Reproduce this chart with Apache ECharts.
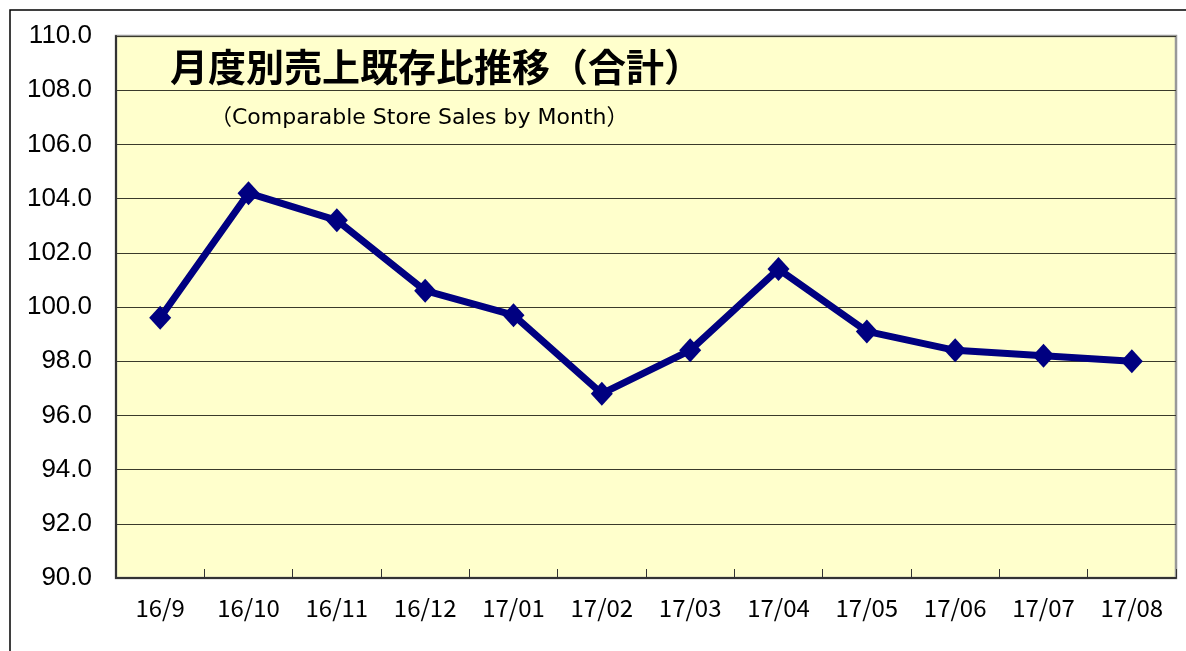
<!DOCTYPE html>
<html>
<head>
<meta charset="utf-8">
<script src="https://cdn.jsdelivr.net/npm/echarts@6/dist/echarts.min.js"></script>
<style>
  html, body { margin: 0; padding: 0; background: #fff; }
  #chart { width: 1186px; height: 651px; }
</style>
</head>
<body>
<div id="chart"></div>
<script>
  // months along the x axis
  const months = ['16/9', '16/10', '16/11', '16/12', '17/01', '17/02', '17/03', '17/04', '17/05', '17/06', '17/07', '17/08'];
  // comparable store sales (%)
  const salesRatio = [99.6, 104.2, 103.2, 100.6, 99.7, 96.8, 98.4, 101.4, 99.1, 98.4, 98.2, 98.0];

  const chart = echarts.init(document.getElementById('chart'));
  chart.setOption({
    animation: false,
    title: [
      {
        text: '月度別売上既存比推移（合計）',
        left: 165,
        top: 43,
        textStyle: {
          fontFamily: 'Noto Sans CJK JP',
          fontSize: 38,
          fontWeight: 'bold',
          color: '#000'
        }
      },
      {
        text: '（Comparable Store Sales by Month）',
        left: 205,
        top: 102,
        textStyle: {
          fontFamily: '"DejaVu Sans", "Noto Sans CJK JP"',
          fontSize: 22,
          fontWeight: 'normal',
          color: '#000'
        }
      }
    ],
    graphic: [
      {
        type: 'rect',
        shape: { x: 10, y: 10, width: 1200, height: 700 },
        style: { fill: 'none', stroke: '#000', lineWidth: 1.5 },
        silent: true,
        z: -10
      }
    ],
    grid: {
      left: 116,
      right: 10,
      top: 36,
      bottom: 73,
      show: true,
      backgroundColor: '#FFFFCC',
      borderColor: '#999',
      borderWidth: 2.5
    },
    xAxis: {
      type: 'category',
      data: months,
      boundaryGap: true,
      axisLine: { lineStyle: { color: '#333', width: 2 } },
      axisTick: { show: true, inside: true, length: 9, lineStyle: { color: '#333' } },
      axisLabel: {
        fontFamily: 'Noto Sans CJK JP',
        fontSize: 24,
        color: '#000',
        margin: 18
      }
    },
    yAxis: {
      type: 'value',
      min: 90,
      max: 110,
      interval: 2,
      axisLine: { show: true, lineStyle: { color: '#333', width: 2 } },
      axisTick: { show: false },
      axisLabel: {
        fontFamily: 'Liberation Sans',
        fontSize: 26,
        color: '#000',
        margin: 24,
        formatter: function (v) { return v.toFixed(1); }
      },
      splitLine: { lineStyle: { color: '#3a3a2a', width: 1.2 } }
    },
    series: [
      {
        type: 'line',
        data: salesRatio,
        symbol: 'diamond',
        symbolSize: [22, 24],
        lineStyle: { color: '#000080', width: 7 },
        itemStyle: { color: '#000080' }
      }
    ]
  });
</script>
</body>
</html>
